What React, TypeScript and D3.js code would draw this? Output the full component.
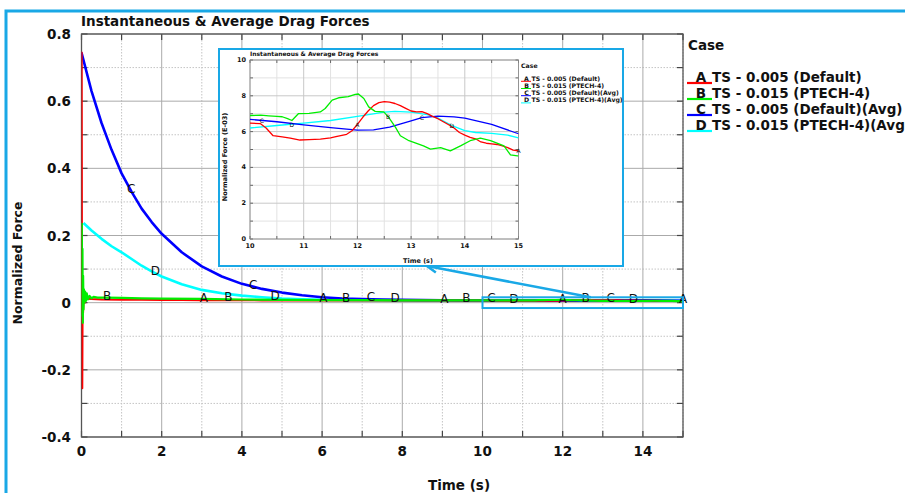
import React from 'react';
import * as d3 from 'd3';

// ---------- data ----------
const caseLetters = ['A', 'B', 'C', 'D'];
const caseNames = [
  'TS - 0.005 (Default)',
  'TS - 0.015 (PTECH-4)',
  'TS - 0.005 (Default)(Avg)',
  'TS - 0.015 (PTECH-4)(Avg)',
];
const caseColors = ['#ff0000', '#00ee00', '#0000ff', '#00ffff'];

// A: instantaneous, TS 0.005
const timeA = [0, 0.005, 0.012, 0.02, 0.03, 0.04, 0.06, 0.08, 0.1, 0.15, 0.25, 0.5, 1, 1.5, 2, 2.5, 3, 3.5, 4, 4.5, 5, 5.5, 6, 6.5, 7, 7.5, 8, 8.5, 9, 9.5,
  10, 10.19, 10.3, 10.43, 10.6, 10.75, 10.93, 11.1, 11.31, 11.5, 11.6, 11.8, 11.9, 12.0, 12.1, 12.2, 12.3, 12.4, 12.5, 12.6, 12.7, 12.8, 12.9, 13.0, 13.1, 13.2, 13.3, 13.4, 13.5, 13.6, 13.7, 13.8, 13.9, 14.0, 14.1, 14.2, 14.3, 14.4, 14.5, 14.6, 14.7, 14.8, 14.9, 15.0];
const forceA = [0, 0.745, 0.1, -0.255, 0.05, -0.03, 0.03, 0.0, 0.02, 0.012, 0.011, 0.0095, 0.0088, 0.0084, 0.008, 0.0077, 0.0074, 0.0071, 0.0069, 0.0068, 0.0067, 0.0066, 0.0066, 0.0065, 0.0065, 0.0064, 0.0064, 0.0065, 0.0064, 0.0065,
  0.00647, 0.00645, 0.0062, 0.00577, 0.0057, 0.00564, 0.00553, 0.00555, 0.00558, 0.00565, 0.00572, 0.00585, 0.00605, 0.0064, 0.0068, 0.00715, 0.00745, 0.00762, 0.00767, 0.00765, 0.00757, 0.00745, 0.0073, 0.00715, 0.0071, 0.00712, 0.007, 0.00685, 0.00672, 0.00655, 0.00638, 0.0062, 0.00595, 0.0058, 0.00568, 0.0056, 0.00542, 0.00535, 0.00532, 0.00528, 0.0052, 0.0051, 0.00497, 0.00492];

// B: instantaneous, TS 0.015
const timeB = [0, 0.008, 0.016, 0.024, 0.032, 0.04, 0.05, 0.06, 0.075, 0.09, 0.11, 0.13, 0.16, 0.2, 0.25, 0.3, 0.4, 0.6, 1, 1.5, 2, 3, 4, 5, 6, 7, 8, 9, 9.5,
  10, 10.2, 10.35, 10.5, 10.6, 10.7, 10.78, 10.9, 11.1, 11.31, 11.4, 11.53, 11.65, 11.83, 11.96, 12.02, 12.12, 12.21, 12.33, 12.49, 12.58, 12.71, 12.8, 12.96, 13.23, 13.36, 13.55, 13.73, 13.92, 14.1, 14.29, 14.48, 14.73, 14.85, 14.98, 15.0];
const forceB = [0, 0.235, -0.04, 0.16, -0.06, 0.08, -0.02, 0.04, 0.0, 0.033, 0.005, 0.028, 0.01, 0.02, 0.013, 0.017, 0.015, 0.015, 0.014, 0.013, 0.012, 0.011, 0.0095, 0.0085, 0.0078, 0.0073, 0.007, 0.0069, 0.0069,
  0.0069, 0.00692, 0.00688, 0.00685, 0.00683, 0.00672, 0.00662, 0.007, 0.00702, 0.0071, 0.00729, 0.00776, 0.00789, 0.00795, 0.00808, 0.0081, 0.00785, 0.00738, 0.00713, 0.0071, 0.00681, 0.00624, 0.00577, 0.00549, 0.0052, 0.00502, 0.00511, 0.00492, 0.0052, 0.00549, 0.00564, 0.00549, 0.0052, 0.0047, 0.00464, 0.00464];

// C: average, TS 0.005
const timeC = [0, 0.25, 0.5, 0.75, 1, 1.25, 1.5, 1.75, 2, 2.5, 3, 3.5, 4, 4.5, 5, 5.5, 6, 6.5, 7, 7.5, 8, 8.5, 9, 9.5,
  10, 10.5, 11, 11.5, 12, 12.3, 12.6, 13, 13.2, 13.5, 13.8, 14, 14.5, 15];
const forceC = [0.745, 0.63, 0.535, 0.455, 0.385, 0.33, 0.28, 0.24, 0.205, 0.15, 0.108, 0.078, 0.056, 0.041, 0.03, 0.022, 0.016, 0.0125, 0.0105, 0.009, 0.0082, 0.0076, 0.0072, 0.0069,
  0.00668, 0.00655, 0.00638, 0.00622, 0.00608, 0.0061, 0.00625, 0.0066, 0.00678, 0.00686, 0.00682, 0.00675, 0.0064, 0.00588];

// D: average, TS 0.015
const timeD = [0.05, 0.25, 0.5, 0.75, 1, 1.25, 1.5, 1.75, 2, 2.5, 3, 3.5, 4, 4.5, 5, 5.5, 6, 7, 8, 9, 9.5,
  10, 10.5, 11, 11.5, 12, 12.5, 12.7, 13, 13.3, 13.5, 13.75, 14, 14.2, 14.5, 14.8, 15];
const forceD = [0.237, 0.215, 0.19, 0.168, 0.15, 0.13, 0.11, 0.093, 0.078, 0.055, 0.038, 0.028, 0.021, 0.016, 0.012, 0.0098, 0.0086, 0.0075, 0.0068, 0.0064, 0.0062,
  0.0062, 0.00634, 0.00647, 0.00662, 0.00685, 0.00709, 0.00713, 0.00709, 0.00695, 0.00675, 0.00635, 0.00605, 0.00595, 0.0059, 0.0058, 0.00565];

// label positions along each curve (time, s)
const labelTimesA = [3.05, 6.03, 9.05, 12.0, 15.0];
const labelTimesB = [0.64, 3.66, 6.6, 9.6, 12.57];
const labelTimesC = [1.24, 4.28, 7.22, 10.22, 13.2];
const labelTimesD = [1.84, 4.83, 7.82, 10.78, 13.76];

const xTicksMain = [0, 2, 4, 6, 8, 10, 12, 14];
const xMinorMain = [1, 3, 5, 7, 9, 11, 13, 15];
const yTicksMain = [-0.4, -0.2, 0, 0.2, 0.4, 0.6, 0.8];
const yTickLabelsMain = ['-0.4', '-0.2', '0', '0.2', '0.4', '0.6', '0.8'];
const yMinorMain = [-0.3, -0.1, 0.1, 0.3, 0.5, 0.7];
const xTicksInset = [10, 11, 12, 13, 14, 15];
const xMinorInset = [10.5, 11.5, 12.5, 13.5, 14.5];
const yTicksInset = [0, 2, 4, 6, 8, 10];
const yMinorInset = [1, 3, 5, 7, 9];

const chartTitle = 'Instantaneous & Average Drag Forces';
const xTitle = 'Time (s)';
const yTitleMain = 'Normalized Force';
const yTitleInset = 'Normalized Force (E-03)';
const legendTitle = 'Case';

// ---------- helpers ----------
const FONT = 'DejaVu Sans, Verdana, sans-serif';
const FRAME = '#19a8e6';

type Pt = { t: number; v: number };
const series = [
  { times: timeA, vals: forceA, labels: labelTimesA },
  { times: timeB, vals: forceB, labels: labelTimesB },
  { times: timeC, vals: forceC, labels: labelTimesC },
  { times: timeD, vals: forceD, labels: labelTimesD },
];

function interp(times: number[], vals: number[], t: number) {
  if (t <= times[0]) return vals[0];
  if (t >= times[times.length - 1]) return vals[vals.length - 1];
  const i = d3.bisectRight(times, t);
  const t0 = times[i - 1], t1 = times[i];
  const f = (t - t0) / (t1 - t0);
  return vals[i - 1] + f * (vals[i] - vals[i - 1]);
}

const drawOrder = [3, 2, 0, 1];

export default function App() {
  // main scales
  const x = d3.scaleLinear().domain([0, 15]).range([81.5, 683]);
  const y = d3.scaleLinear().domain([-0.4, 0.8]).range([437, 34]);
  // inset scales
  const xi = d3.scaleLinear().domain([10, 15]).range([250, 518.5]);
  const yi = d3.scaleLinear().domain([0, 10]).range([239, 60]);

  const lineMain = d3.line<Pt>().x(d => x(d.t)).y(d => y(d.v));
  const lineInset = d3.line<Pt>().x(d => xi(d.t)).y(d => yi(d.v));

  const mainPts = series.map(s => s.times.map((t, i) => ({ t, v: s.vals[i] })));
  const insetPts = series.map(s => s.times.map((t, i) => ({ t, v: s.vals[i] * 1000 })).filter(p => p.t >= 10));

  const [x0, x1] = x.range();
  const [yb, yt] = y.range();
  const [xi0, xi1] = xi.range();
  const [yib, yit] = yi.range();

  const hlTop = y(0.016), hlBot = y(-0.016);
  const arrowStart: [number, number] = [x(12.7), hlTop];
  const arrowEnd: [number, number] = [427, 266];
  const ang = Math.atan2(arrowStart[1] - arrowEnd[1], arrowStart[0] - arrowEnd[0]);
  const headLen = 11, headAng = 0.45;
  const h1 = [arrowEnd[0] + headLen * Math.cos(ang + headAng), arrowEnd[1] + headLen * Math.sin(ang + headAng)];
  const h2 = [arrowEnd[0] + headLen * Math.cos(ang - headAng), arrowEnd[1] + headLen * Math.sin(ang - headAng)];

  const widths = [2, 2.2, 2.6, 2.6];

  return (
    <svg width={905} height={493} style={{ position: 'absolute', left: 0, top: 0, background: '#fff' }} fontFamily={FONT}>
      <rect x={0} y={0} width={905} height={493} fill="#fff" />
      <defs>
        <clipPath id="mainClip"><rect x={x0} y={yt} width={x1 - x0} height={yb - yt} /></clipPath>
        <clipPath id="insetClip"><rect x={xi0} y={yit} width={xi1 - xi0} height={yib - yit} /></clipPath>
      </defs>

      {/* outer frame */}
      <rect x={6} y={11} width={930} height={600} fill="none" stroke={FRAME} strokeWidth={3} />

      {/* title */}
      <text x={81} y={26} fontSize={13.5} fontWeight="bold" fill="#111">{chartTitle}</text>

      {/* main grid */}
      {xMinorMain.map(t => (
        <line key={'xm' + t} x1={x(t)} x2={x(t)} y1={yt} y2={yb} stroke="#c4c4c4" strokeDasharray="1.5,1.5" />
      ))}
      {yMinorMain.map(v => (
        <line key={'ym' + v} x1={x0} x2={x1} y1={y(v)} y2={y(v)} stroke="#c4c4c4" strokeDasharray="1.5,1.5" />
      ))}
      {xTicksMain.map(t => (
        <line key={'xg' + t} x1={x(t)} x2={x(t)} y1={yt} y2={yb} stroke="#aaaaaa" />
      ))}
      {yTicksMain.map(v => (
        <line key={'yg' + v} x1={x0} x2={x1} y1={y(v)} y2={y(v)} stroke="#aaaaaa" />
      ))}

      {/* ticks on all sides */}
      {[...xTicksMain, ...xMinorMain].map(t => (
        <g key={'xt' + t}>
          <line x1={x(t)} x2={x(t)} y1={yb} y2={yb - 6} stroke="#444" strokeWidth={1.2} />
          <line x1={x(t)} x2={x(t)} y1={yt} y2={yt + 6} stroke="#444" strokeWidth={1.2} />
        </g>
      ))}
      {[...yTicksMain, ...yMinorMain].map(v => (
        <g key={'yt' + v}>
          <line x1={x0} x2={x0 + 6} y1={y(v)} y2={y(v)} stroke="#444" strokeWidth={1.2} />
          <line x1={x1} x2={x1 - 6} y1={y(v)} y2={y(v)} stroke="#444" strokeWidth={1.2} />
        </g>
      ))}
      <rect x={x0} y={yt} width={x1 - x0} height={yb - yt} fill="none" stroke="#555" strokeWidth={1.3} />

      {/* tick labels */}
      {xTicksMain.map(t => (
        <text key={'xl' + t} x={x(t)} y={451} textAnchor="middle" dominantBaseline="central" fontSize={13.5} fontWeight="bold" fill="#111">{t}</text>
      ))}
      {yTicksMain.map((v, i) => (
        <text key={'yl' + v} x={71} y={y(v)} textAnchor="end" dominantBaseline="central" fontSize={13.5} fontWeight="bold" fill="#111">{yTickLabelsMain[i]}</text>
      ))}
      <text x={459} y={485} textAnchor="middle" dominantBaseline="central" fontSize={13.5} fontWeight="bold" fill="#111">{xTitle}</text>
      <text transform={`translate(17,263) rotate(-90)`} textAnchor="middle" dominantBaseline="central" fontSize={12.5} fontWeight="bold" fill="#111">{yTitleMain}</text>

      {/* main lines */}
      <g clipPath="url(#mainClip)">
        {drawOrder.map(i => (
          <path key={'ml' + i} d={lineMain(mainPts[i]) || ''} fill="none" stroke={caseColors[i]} strokeWidth={widths[i]} strokeLinejoin="round" />
        ))}
      </g>
      {/* main curve labels */}
      {series.map((s, i) => s.labels.map(t => (
        <text key={'lab' + i + t} x={x(t)} y={y(interp(s.times, s.vals, t)) - 2} textAnchor="middle" dominantBaseline="central" fontSize={12} fill="#111">{caseLetters[i]}</text>
      )))}

      {/* legend */}
      <text x={688} y={50} fontSize={13.5} fontWeight="bold" fill="#111">{legendTitle}</text>
      {caseNames.map((n, i) => {
        const by = 81.5 + i * 16;
        return (
          <g key={'lg' + i}>
            <line x1={687} x2={712} y1={by + 1.5} y2={by + 1.5} stroke={caseColors[i]} strokeWidth={2.2} />
            <text x={701} y={by} textAnchor="middle" fontSize={13.5} fontWeight="bold" fill="#111">{caseLetters[i]}</text>
            <text x={712} y={by} fontSize={13.5} fontWeight="bold" fill="#111">{n}</text>
          </g>
        );
      })}

      {/* highlight rect and arrow */}
      <rect x={x(10)} y={hlTop} width={x(15) - x(10)} height={hlBot - hlTop} fill="none" stroke={FRAME} strokeWidth={2} />
      <line x1={arrowStart[0]} y1={arrowStart[1]} x2={arrowEnd[0]} y2={arrowEnd[1]} stroke={FRAME} strokeWidth={2.5} />
      <polyline points={`${h1[0]},${h1[1]} ${arrowEnd[0]},${arrowEnd[1]} ${h2[0]},${h2[1]}`} fill="none" stroke={FRAME} strokeWidth={2.5} />

      {/* inset */}
      <rect x={219} y={49} width={404} height={217} fill="#fff" stroke={FRAME} strokeWidth={2} />
      <text x={250} y={56} fontSize={6} fontWeight="bold" fill="#111">{chartTitle}</text>
      {xMinorInset.map(t => (
        <line key={'ixm' + t} x1={xi(t)} x2={xi(t)} y1={yit} y2={yib} stroke="#e2e2e2" />
      ))}
      {yMinorInset.map(v => (
        <line key={'iym' + v} x1={xi0} x2={xi1} y1={yi(v)} y2={yi(v)} stroke="#e2e2e2" />
      ))}
      {xTicksInset.map(t => (
        <line key={'ixg' + t} x1={xi(t)} x2={xi(t)} y1={yit} y2={yib} stroke="#c8c8c8" />
      ))}
      {yTicksInset.map(v => (
        <line key={'iyg' + v} x1={xi0} x2={xi1} y1={yi(v)} y2={yi(v)} stroke="#c8c8c8" />
      ))}
      {[...xTicksInset, ...xMinorInset].map(t => (
        <g key={'ixt' + t}>
          <line x1={xi(t)} x2={xi(t)} y1={yib} y2={yib - 3} stroke="#666" />
          <line x1={xi(t)} x2={xi(t)} y1={yit} y2={yit + 3} stroke="#666" />
        </g>
      ))}
      {[...yTicksInset, ...yMinorInset].map(v => (
        <g key={'iyt' + v}>
          <line x1={xi0} x2={xi0 + 3} y1={yi(v)} y2={yi(v)} stroke="#666" />
          <line x1={xi1} x2={xi1 - 3} y1={yi(v)} y2={yi(v)} stroke="#666" />
        </g>
      ))}
      <rect x={xi0} y={yit} width={xi1 - xi0} height={yib - yit} fill="none" stroke="#888" strokeWidth={0.8} />
      {xTicksInset.map(t => (
        <text key={'ixl' + t} x={xi(t)} y={246} textAnchor="middle" dominantBaseline="central" fontSize={6.5} fontWeight="bold" fill="#111">{t}</text>
      ))}
      {yTicksInset.map(v => (
        <text key={'iyl' + v} x={246} y={yi(v)} textAnchor="end" dominantBaseline="central" fontSize={6.5} fontWeight="bold" fill="#111">{v}</text>
      ))}
      <text x={418} y={261} textAnchor="middle" dominantBaseline="central" fontSize={6.5} fontWeight="bold" fill="#111">{xTitle}</text>
      <text transform={`translate(225,157) rotate(-90)`} textAnchor="middle" dominantBaseline="central" fontSize={6.5} fontWeight="bold" fill="#111">{yTitleInset}</text>
      <g clipPath="url(#insetClip)">
        {drawOrder.map(i => (
          <path key={'il' + i} d={lineInset(insetPts[i]) || ''} fill="none" stroke={caseColors[i]} strokeWidth={1.3} strokeLinejoin="round" />
        ))}
      </g>
      {series.map((s, i) => s.labels.filter(t => t >= 10).map(t => (
        <text key={'ilab' + i + t} x={xi(t)} y={yi(interp(s.times, s.vals, t) * 1000)} textAnchor="middle" dominantBaseline="central" fontSize={6} fill="#111">{caseLetters[i]}</text>
      )))}
      <text x={521} y={67.5} fontSize={6.2} fontWeight="bold" fill="#111">{legendTitle}</text>
      {caseNames.map((n, i) => {
        const by = 80.5 + i * 7.2;
        return (
          <g key={'ilg' + i}>
            <line x1={521} x2={531} y1={by + 0.8} y2={by + 0.8} stroke={caseColors[i]} strokeWidth={1} />
            <text x={526.5} y={by} textAnchor="middle" fontSize={6.2} fontWeight="bold" fill="#111">{caseLetters[i]}</text>
            <text x={531.5} y={by} fontSize={6.2} fontWeight="bold" fill="#111">{n}</text>
          </g>
        );
      })}
    </svg>
  );
}
